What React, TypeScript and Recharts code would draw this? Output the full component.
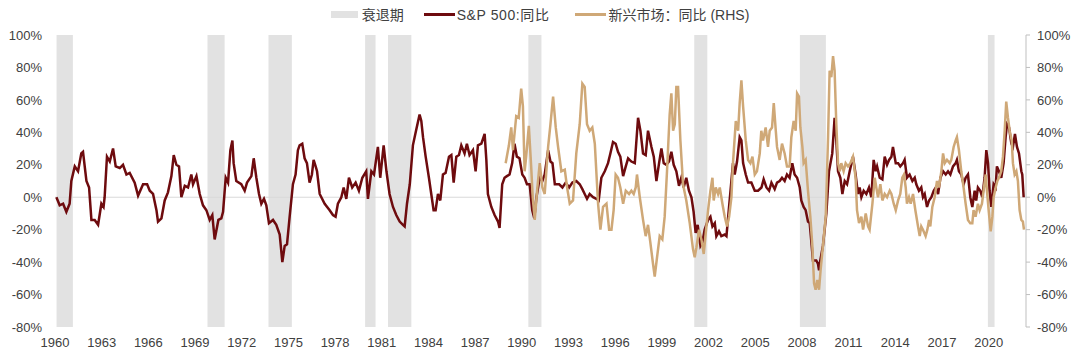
import React from 'react';
import {
  LineChart,
  Line,
  XAxis,
  YAxis,
  ReferenceArea,
  ReferenceLine,
} from 'recharts';

// S&P 500 YoY (%)
const spxDates = [
  1960.09, 1960.3, 1960.52, 1960.73, 1960.94, 1961.05, 1961.27, 1961.48, 1961.69, 1961.8,
  1962.02, 1962.19, 1962.34, 1962.55, 1962.77, 1962.98, 1963.12, 1963.19, 1963.34, 1963.52,
  1963.73, 1963.9, 1964.16, 1964.37, 1964.59, 1964.8, 1965.12, 1965.34, 1965.66, 1965.92,
  1966.09, 1966.3, 1966.52, 1966.62, 1966.84, 1967.05, 1967.26, 1967.48, 1967.63, 1967.8,
  1967.97, 1968.12, 1968.34, 1968.55, 1968.76, 1968.87, 1969.09, 1969.3, 1969.51, 1969.73,
  1969.94, 1970.11, 1970.26, 1970.5, 1970.69, 1970.8, 1970.97, 1971.12, 1971.27, 1971.4,
  1971.48, 1971.65, 1971.97, 1972.19, 1972.34, 1972.62, 1972.77, 1972.94, 1973.11, 1973.26,
  1973.43, 1973.58, 1973.75, 1974.01, 1974.22, 1974.44, 1974.61, 1974.76, 1974.91, 1975.08,
  1975.29, 1975.46, 1975.61, 1975.72, 1975.89, 1976.04, 1976.19, 1976.36, 1976.51, 1976.62,
  1976.75, 1976.84, 1977.01, 1977.33, 1977.65, 1977.86, 1978.03, 1978.18, 1978.4, 1978.55,
  1978.72, 1978.89, 1979.1, 1979.32, 1979.53, 1979.75, 1980.0, 1980.11, 1980.33, 1980.5,
  1980.75, 1980.9, 1981.12, 1981.3, 1981.5, 1981.72, 1981.93, 1982.15, 1982.36, 1982.47,
  1982.62, 1982.8, 1983.0, 1983.2, 1983.43, 1983.54, 1983.65, 1983.82, 1984.03, 1984.18,
  1984.33, 1984.46, 1984.61, 1984.76, 1984.93, 1985.1, 1985.32, 1985.47, 1985.62, 1985.79,
  1985.96, 1986.11, 1986.32, 1986.47, 1986.64, 1986.86, 1987.03, 1987.18, 1987.4, 1987.61,
  1987.72, 1987.82, 1988.04, 1988.25, 1988.47, 1988.57, 1988.74, 1988.89, 1989.04, 1989.21,
  1989.38, 1989.53, 1989.68, 1989.85, 1990.03, 1990.18, 1990.33, 1990.5, 1990.67, 1990.8,
  1990.94, 1991.15, 1991.32, 1991.47, 1991.69, 1991.84, 1991.97, 1992.12, 1992.4, 1992.61,
  1992.82, 1993.04, 1993.25, 1993.5, 1993.72, 1993.89, 1994.04, 1994.19, 1994.36, 1994.58,
  1994.79, 1994.94, 1995.11, 1995.33, 1995.54, 1995.69, 1995.86, 1996.03, 1996.18, 1996.33,
  1996.51, 1996.68, 1996.83, 1997.04, 1997.26, 1997.47, 1997.62, 1997.79, 1997.96, 1998.11,
  1998.33, 1998.48, 1998.65, 1998.82, 1998.97, 1999.12, 1999.29, 1999.46, 1999.61, 1999.76,
  1999.93, 2000.1, 2000.25, 2000.4, 2000.57, 2000.74, 2000.9, 2001.04, 2001.17, 2001.3,
  2001.48, 2001.6, 2001.75, 2001.97, 2002.12, 2002.25, 2002.4, 2002.5, 2002.67, 2002.82,
  2003.04, 2003.15, 2003.57, 2003.68, 2003.83, 2004.0, 2004.11, 2004.22, 2004.39, 2004.54,
  2004.75, 2004.97, 2005.18, 2005.4, 2005.54, 2005.72, 2005.89, 2006.04, 2006.25, 2006.4,
  2006.57, 2006.72, 2006.89, 2007.04, 2007.21, 2007.38, 2007.53, 2007.69, 2007.86, 2007.96,
  2008.11, 2008.24, 2008.39, 2008.5, 2008.71, 2008.92, 2009.03, 2009.1, 2009.18, 2009.35,
  2009.57, 2009.74, 2009.95, 2010.1, 2010.21, 2010.32, 2010.47, 2010.6, 2010.75, 2010.9,
  2011.07, 2011.28, 2011.45, 2011.6, 2011.71, 2011.82, 2011.97, 2012.14, 2012.31, 2012.46,
  2012.61, 2012.74, 2012.83, 2013.0, 2013.17, 2013.32, 2013.47, 2013.6, 2013.75, 2013.85,
  2014.03, 2014.18, 2014.32, 2014.5, 2014.6, 2014.75, 2014.92, 2015.1, 2015.25, 2015.35,
  2015.52, 2015.67, 2015.78, 2015.89, 2016.04, 2016.17, 2016.32, 2016.47, 2016.6, 2016.75,
  2016.9, 2017.07, 2017.24, 2017.39, 2017.54, 2017.71, 2017.88, 2017.96, 2018.09, 2018.24,
  2018.39, 2018.52, 2018.67, 2018.82, 2018.95, 2019.1, 2019.2, 2019.31, 2019.46, 2019.59,
  2019.74, 2019.85, 2019.96, 2020.06, 2020.17, 2020.32, 2020.45, 2020.53, 2020.66, 2020.81,
  2020.96, 2021.09, 2021.18, 2021.31, 2021.46, 2021.56, 2021.69, 2021.82, 2021.95, 2022.1,
  2022.16, 2022.25,
];
const spxYoy = [
  0, -5, -4, -9, -4, 10, 19, 16, 27, 28,
  10, 6, -14, -14, -17, -4, -6, 0, 25, 22,
  30, 19, 18, 20, 14, 15, 9, 1, 8, 8,
  4, 2, -8, -15, -13, -2, 3, 13, 26, 20,
  19, 0, 7, 6, 14, 8, 13, 2, -5, -8,
  -14, -11, -26, -14, -13, -9, 12, 9, 29, 35,
  21, 10, 8, 4, 9, 13, 24, 12, 2, -4,
  -1, -5, -16, -14, -17, -23, -40, -30, -29, -12,
  8, 14, 29, 32, 33, 24, 21, 9, 14, 23,
  19, 16, 2, -4, -8, -11, -12, -4, 0, 6,
  -1, 12, 6, 9, 4, 12, 16, -1, 16, 14,
  31, 12, 32, 16, 2, -6, -11, -15, -17, -18,
  -4, 8, 32, 41, 51, 47, 37, 25, 12, 2,
  -8, -8, 2, -2, 14, 15, 25, 26, 9, 25,
  26, 32, 27, 33, 26, 29, 16, 32, 33, 39,
  23, 2, -6, -11, -15, -19, 8, 12, 13, 14,
  21, 33, 25, 24, 14, 12, 8, 8, -8, -13,
  0, 12, 10, 14, 29, 22, 21, 8, 8, 6,
  9, 6, 9, 10, 8, 5, 2, -1, 2, 0,
  -1, -2, 12, 16, 21, 27, 34, 33, 28, 25,
  13, 19, 24, 22, 21, 49, 41, 27, 26, 41,
  31, 25, 10, 21, 30, 21, 20, 22, 28, 20,
  16, 7, 12, 6, 12, 4, 0, -9, -22, -17,
  -30, -28, -20, -14, -12, -18, -16, -24, -21, -24,
  -23, -24, 21, 14, 22, 37, 35, 21, 14, 9,
  9, 4, 4, 6, 11, 6, 4, 9, 5, 9,
  10, 12, 10, 14, 12, 21, 14, 12, 6, -2,
  -6, -8, -15, -16, -39, -39, -41, -45, -39, -30,
  -10, 16, 27, 49, 35, 16, 12, 2, 10, 8,
  16, 25, 14, 2, 6, 0, 4, 2, 6, 0,
  23, 16, 19, 12, 11, 25, 20, 23, 25, 31,
  21, 21, 19, 21, 23, 12, 14, 10, 12, 8,
  4, 6, 0, 2, -6, -2, 0, 4, 6, 2,
  12, 16, 14, 16, 14, 19, 21, 23, 16, 14,
  8, 12, 14, 0, -6, 4, -2, 6, 4, 0,
  12, 29, 21, 4, -6, 8, 6, 19, 16, 12,
  21, 37, 45, 43, 33, 31, 39, 31, 27, 16,
  14, 0,
];

// Emerging markets YoY (%), right axis
const emDates = [
  1988.96, 1989.17, 1989.32, 1989.43, 1989.64, 1989.8, 1989.96, 1990.07, 1990.18, 1990.28,
  1990.45, 1990.6, 1990.7, 1990.83, 1990.98, 1991.15, 1991.32, 1991.47, 1991.69, 1991.84,
  1992.01, 1992.18, 1992.33, 1992.54, 1992.76, 1992.91, 1993.08, 1993.29, 1993.5, 1993.72,
  1993.89, 1994.04, 1994.19, 1994.36, 1994.53, 1994.69, 1994.9, 1995.05, 1995.22, 1995.44,
  1995.61, 1995.76, 1995.9, 1996.03, 1996.18, 1996.33, 1996.51, 1996.68, 1996.89, 1997.04,
  1997.19, 1997.32, 1997.4, 1997.58, 1997.79, 1997.96, 1998.11, 1998.26, 1998.43, 1998.54,
  1998.69, 1998.86, 1999.03, 1999.18, 1999.33, 1999.5, 1999.61, 1999.72, 1999.83, 1999.93,
  2000.04, 2000.19, 2000.36, 2000.57, 2000.79, 2001.0, 2001.11, 2001.22, 2001.39, 2001.54,
  2001.69, 2001.82, 2001.97, 2002.12, 2002.25, 2002.33, 2002.46, 2002.61, 2002.72, 2002.89,
  2003.04, 2003.19, 2003.32, 2003.47, 2003.57, 2003.75, 2003.9, 2004.0, 2004.11, 2004.22,
  2004.39, 2004.54, 2004.69, 2004.82, 2004.97, 2005.11, 2005.29, 2005.39, 2005.5, 2005.67,
  2005.82, 2005.93, 2006.08, 2006.19, 2006.32, 2006.4, 2006.57, 2006.72, 2006.89, 2007.04,
  2007.21, 2007.32, 2007.47, 2007.6, 2007.69, 2007.81, 2007.9, 2008.03, 2008.11, 2008.24,
  2008.39, 2008.54, 2008.67, 2008.78, 2008.88, 2008.99, 2009.1, 2009.2, 2009.35, 2009.53,
  2009.68, 2009.78, 2009.89, 2010.0, 2010.1, 2010.21, 2010.32, 2010.43, 2010.53, 2010.68,
  2010.81, 2010.96, 2011.11, 2011.28, 2011.45, 2011.54, 2011.67, 2011.82, 2011.93, 2012.1,
  2012.25, 2012.35, 2012.53, 2012.68, 2012.78, 2012.89, 2013.04, 2013.17, 2013.32, 2013.47,
  2013.64, 2013.75, 2013.9, 2014.03, 2014.18, 2014.32, 2014.45, 2014.56, 2014.67, 2014.75,
  2014.88, 2014.99, 2015.14, 2015.29, 2015.46, 2015.57, 2015.67, 2015.78, 2015.95, 2016.06,
  2016.17, 2016.25, 2016.38, 2016.53, 2016.68, 2016.81, 2016.96, 2017.07, 2017.18, 2017.32,
  2017.5, 2017.6, 2017.75, 2017.88, 2017.96, 2018.09, 2018.24, 2018.39, 2018.52, 2018.67,
  2018.82, 2018.95, 2019.03, 2019.16, 2019.31, 2019.42, 2019.57, 2019.7, 2019.81, 2019.89,
  2020.0, 2020.13, 2020.24, 2020.32, 2020.45, 2020.56, 2020.66, 2020.81, 2020.92, 2021.03,
  2021.13, 2021.24, 2021.35, 2021.48, 2021.56, 2021.67, 2021.78, 2021.88, 2021.99, 2022.1,
  2022.2, 2022.27,
];
const emYoy = [
  21, 32, 43, 29, 50, 49, 67, 56, 16, 25,
  44, 19, 0, -14, 4, 21, 6, 2, 31, 45,
  62, 43, 31, 16, 17, 6, -4, -2, 27, 45,
  70, 68, 45, 41, 43, 33, -4, -20, -6, -4,
  -20, -20, -8, 14, 12, 6, -4, 4, 2, 4,
  2, 6, 14, 0, -14, -24, -17, -28, -41, -49,
  -37, -24, -26, -12, 16, 51, 64, 41, 45, 68,
  68, 35, 8, -2, -16, -32, -37, -31, -20, -26,
  -35, -22, -8, 4, 12, -2, 6, 2, 6, -4,
  -12, -18, -12, 0, 21, 47, 41, 58, 72, 56,
  35, 23, 21, 25, 14, 16, 27, 41, 35, 43,
  31, 41, 43, 58, 41, 31, 23, 33, 27, 19,
  19, 37, 47, 41, 64, 62, 43, 31, 21, 23,
  4, -12, -30, -53, -57, -51, -57, -45, -30, -12,
  37, 78, 74, 87, 78, 45, 21, 16, 21, 16,
  21, 19, 21, 25, 12, -8, -16, -12, -20, -10,
  -18, -20, -4, 12, 6, 0, 8, -2, 2, 0,
  4, 2, -4, -8, -2, 2, 12, 14, 6, -4,
  0, -4, 2, -8, -18, -24, -18, -20, -24, -20,
  -14, -18, -6, 0, 10, 6, 16, 27, 21, 23,
  21, 23, 31, 35, 37, 29, 16, 6, -4, -14,
  -16, -16, -8, -12, -4, -8, -4, 6, 14, 4,
  -8, -21, -12, 0, 6, 10, 12, 16, 25, 41,
  59, 49, 41, 35, 21, 14, 16, 10, -8, -14,
  -15, -20,
];

// recessions (start / end, decimal year)
const recessionStart = [1960.1, 1969.8, 1973.72, 1979.93, 1981.4, 1990.42, 2001.08, 2007.87, 2019.95];
const recessionEnd = [1961.15, 1970.9, 1975.22, 1980.6, 1982.9, 1991.26, 2001.92, 2009.54, 2020.38];

const yearTicks = [1960, 1963, 1966, 1969, 1972, 1975, 1978, 1981, 1984, 1987, 1990, 1993, 1996, 1999, 2002, 2005, 2008, 2011, 2014, 2017, 2020];
const pctTicks = [-80, -60, -40, -20, 0, 20, 40, 60, 80, 100];

const spxData = spxDates.map((t, i) => ({ t, v: spxYoy[i] }));
const emData = emDates.map((t, i) => ({ t, v: emYoy[i] }));

const SPX_COLOR = '#6E0B0E';
const EM_COLOR = '#CFA877';
const BAND_COLOR = '#E2E2E2';
const FONT = '"Liberation Sans", Arial, "Noto Sans CJK SC", sans-serif';
const TEXT = '#404040';

const tickStyle = { fontSize: 13, fill: TEXT, fontFamily: FONT };

const ChartLegend = () => (
  <div
    style={{
      position: 'absolute',
      top: 4,
      left: 0,
      width: 1080,
      display: 'flex',
      justifyContent: 'center',
      alignItems: 'center',
      fontFamily: FONT,
      fontSize: 14,
      color: TEXT,
    }}
  >
    <span style={{ display: 'inline-block', width: 27, height: 7, background: BAND_COLOR, marginRight: 4 }} />
    <span style={{ marginRight: 20 }}>衰退期</span>
    <span style={{ display: 'inline-block', width: 31, height: 3, background: SPX_COLOR, marginRight: 2 }} />
    <span style={{ marginRight: 25, letterSpacing: 0.6 }}>S&amp;P 500:同比</span>
    <span style={{ display: 'inline-block', width: 31, height: 3, background: EM_COLOR, marginRight: 3 }} />
    <span>新兴市场：同比 (RHS)</span>
  </div>
);

export default function App() {
  return (
    <div style={{ position: 'absolute', left: 0, top: 0, width: 1080, height: 357, background: '#fff' }}>
      <style>{`body{margin:0}`}</style>
      <ChartLegend />
      <LineChart width={1080} height={357} margin={{ top: 35, right: 0, bottom: 0, left: 0 }}>
        <XAxis
          dataKey="t"
          type="number"
          domain={[1960, 2022.4]}
          ticks={yearTicks}
          allowDataOverflow
          axisLine={false}
          tickLine={false}
          height={30}
          tickMargin={5}
          tick={tickStyle}
          tickFormatter={(v: number) => String(Math.round(v))}
        />
        <YAxis
          yAxisId="left"
          domain={[-80, 100]}
          ticks={pctTicks}
          width={55}
          axisLine={false}
          tickLine={false}
          tickMargin={7}
          tick={tickStyle}
          tickFormatter={(v: number) => `${v}%`}
        />
        <YAxis
          yAxisId="right"
          orientation="right"
          domain={[-80, 100]}
          ticks={pctTicks}
          width={54}
          axisLine={{ stroke: '#BFBFBF' }}
          tickLine={{ stroke: '#BFBFBF' }}
          tickSize={4}
          tickMargin={7}
          tick={tickStyle}
          tickFormatter={(v: number) => `${v}%`}
        />
        {recessionStart.map((s, i) => (
          <ReferenceArea
            key={s}
            yAxisId="left"
            x1={s}
            x2={recessionEnd[i]}
            y1={-80}
            y2={100}
            fill={BAND_COLOR}
            fillOpacity={1}
            stroke="none"
            ifOverflow="hidden"
          />
        ))}
        <ReferenceLine yAxisId="left" y={0} stroke="#D9D9D9" strokeWidth={1} />
        <Line
          yAxisId="left"
          data={spxData}
          dataKey="v"
          type="linear"
          stroke={SPX_COLOR}
          strokeWidth={2.5}
          dot={false}
          isAnimationActive={false}
        />
        <Line
          yAxisId="right"
          data={emData}
          dataKey="v"
          type="linear"
          stroke={EM_COLOR}
          strokeWidth={2.5}
          dot={false}
          isAnimationActive={false}
        />
      </LineChart>
    </div>
  );
}
